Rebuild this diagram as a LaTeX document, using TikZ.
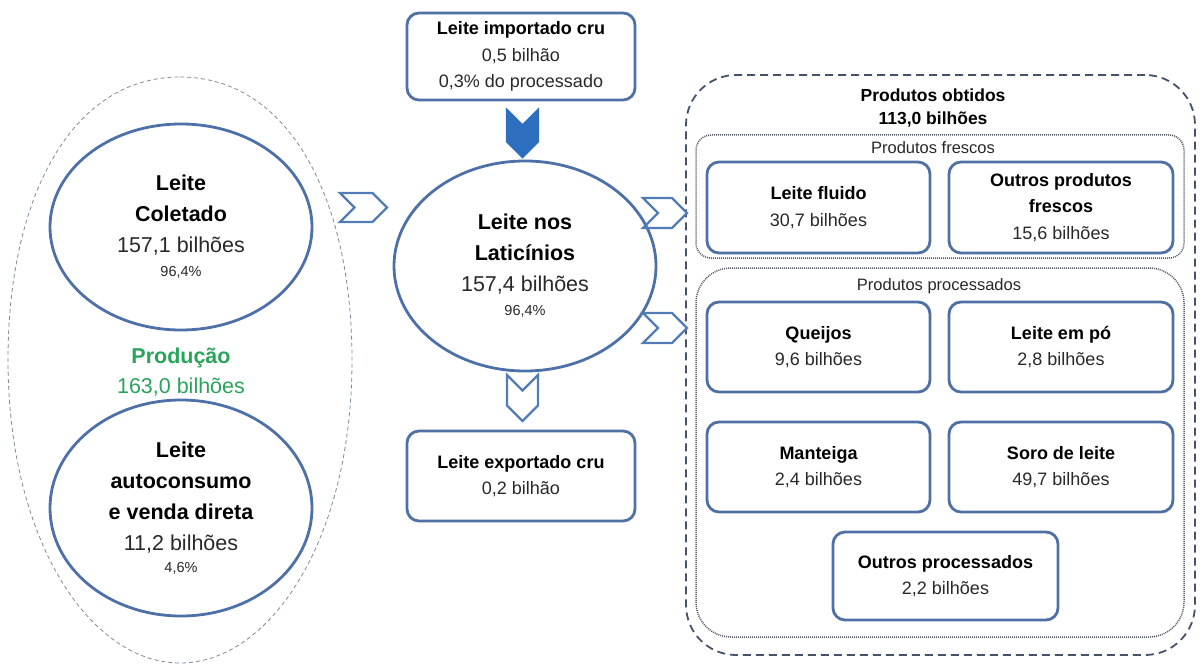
\documentclass[tikz,border=0pt]{standalone}
\usepackage{fontspec}
\setmainfont{Liberation Sans}
\usetikzlibrary{shapes.geometric,shapes.symbols}
\definecolor{boxblue}{RGB}{78,112,165}
\definecolor{ellblue}{RGB}{78,112,168}
\definecolor{chevblue}{RGB}{82,124,182}
\definecolor{fillblue}{RGB}{45,110,190}
\definecolor{prodgreen}{RGB}{40,165,90}
\definecolor{outerdash}{RGB}{70,82,105}
\definecolor{dotgray}{RGB}{85,90,102}
\definecolor{egggray}{RGB}{125,138,158}
\definecolor{numtext}{RGB}{40,40,40}
\begin{document}
\begin{tikzpicture}[x=1pt,y=-1pt,
  bigell/.style={ellipse, draw=ellblue, line width=2.8pt, inner sep=0pt, align=center,
    font=\fontsize{21.5}{31}\selectfont, text=numtext},
  box/.style={rectangle, rounded corners=12pt, draw=boxblue, line width=2.8pt, align=center,
    font=\fontsize{18}{26.5}\selectfont, text=numtext, inner sep=0pt},
  chev/.style={signal, signal from=west, signal to=east, draw=chevblue, line width=2.2pt, inner sep=0pt},
  dotbox/.style={rectangle, draw=dotgray, line width=1.5pt, dash pattern=on 1pt off 1pt, inner sep=0pt}
]
\useasboundingbox (0,0) rectangle (1203,666);

% left dashed egg
\draw[egggray, line width=0.8pt, dash pattern=on 4pt off 3pt]
  (180,77) .. controls (290,77) and (352,200) .. (352,360)
  .. controls (352,540) and (270,663) .. (180,663)
  .. controls (90,663) and (8,540) .. (8,360)
  .. controls (8,200) and (70,77) .. (180,77);

% outer dashed frame and dotted groups
\node[rectangle, draw=outerdash, line width=1.8pt, dash pattern=on 8pt off 5pt, rounded corners=50pt,
  minimum width=509pt, minimum height=580pt] (obt) at (940.5,365) {};
\node[dotbox, rounded corners=15pt, minimum width=488pt, minimum height=123pt] (fres) at (940,196.5) {};
\node[dotbox, rounded corners=35pt, minimum width=488pt, minimum height=369pt] (proc) at (940,452.5) {};

\node[font=\bfseries\fontsize{17.5}{23}\selectfont, align=center] (obtlbl) at (933,108) {Produtos obtidos\\113,0 bilhões};
\node[anchor=base, font=\fontsize{16.5}{20}\selectfont, text=numtext] (freslbl) at (933,154) {Produtos frescos};
\node[anchor=base, font=\fontsize{16.5}{20}\selectfont, text=numtext] (proclbl) at (939,290) {Produtos processados};

% ellipses
\node[bigell, minimum width=262pt, minimum height=206pt] (col) at (181,227)
  {\textbf{\color{black}Leite}\\\textbf{\color{black}Coletado}\\157,1 bilhões\\[-7pt]{\fontsize{14.5}{31}\selectfont 96,4\%}};
\node[bigell, minimum width=262pt, minimum height=216pt] (auto) at (181,508)
  {\textbf{\color{black}Leite}\\\textbf{\color{black}autoconsumo}\\\textbf{\color{black}e venda direta}\\11,2 bilhões\\[-9pt]{\fontsize{14.5}{31}\selectfont 4,6\%}};
\node[align=center, text=prodgreen, font=\fontsize{21.5}{30}\selectfont] (prodn) at (181,372)
  {\textbf{Produção}\\163,0 bilhões};
\node[bigell, minimum width=262pt, minimum height=210pt] (lat) at (525,266)
  {\textbf{\color{black}Leite nos}\\\textbf{\color{black}Laticínios}\\157,4 bilhões\\[-7pt]{\fontsize{14.5}{31}\selectfont 96,4\%}};

% boxes
\node[box, minimum width=228pt, minimum height=87pt] (imp) at (521,56.5)
  {\textbf{\color{black}Leite importado cru}\\0,5 bilhão\\0,3\% do processado};
\node[box, minimum width=228pt, minimum height=90pt] (exp) at (521,476)
  {\textbf{\color{black}Leite exportado cru}\\0,2 bilhão};
\node[box, minimum width=223pt, minimum height=91pt] (lf) at (818.5,207.5)
  {\textbf{\color{black}Leite fluido}\\30,7 bilhões};
\node[box, minimum width=224pt, minimum height=91pt] (opf) at (1061,207.5)
  {\textbf{\color{black}Outros produtos}\\\textbf{\color{black}frescos}\\15,6 bilhões};
\node[box, minimum width=223pt, minimum height=90pt] (qj) at (818.5,347)
  {\textbf{\color{black}Queijos}\\9,6 bilhões};
\node[box, minimum width=224pt, minimum height=90pt] (lp) at (1061,347)
  {\textbf{\color{black}Leite em pó}\\2,8 bilhões};
\node[box, minimum width=223pt, minimum height=90pt] (mt) at (818.5,467)
  {\textbf{\color{black}Manteiga}\\2,4 bilhões};
\node[box, minimum width=224pt, minimum height=90pt] (sl) at (1061,467)
  {\textbf{\color{black}Soro de leite}\\49,7 bilhões};
\node[box, minimum width=225pt, minimum height=88pt] (op) at (945.5,576)
  {\textbf{\color{black}Outros processados}\\2,2 bilhões};

% chevrons
\node[chev, minimum width=47pt, minimum height=29pt] (c1) at (363.5,207.5) {};
\node[chev, minimum width=44pt, minimum height=30pt] (c2) at (665,213) {};
\node[chev, minimum width=44pt, minimum height=30pt] (c3) at (665,328) {};
\node[chev, rotate=-90, draw=fillblue, fill=fillblue, minimum width=47pt, minimum height=31pt] (c4) at (522.5,133.5) {};
\node[chev, rotate=-90, minimum width=46pt, minimum height=31pt] (c5) at (522.5,398) {};
\end{tikzpicture}
\end{document}
